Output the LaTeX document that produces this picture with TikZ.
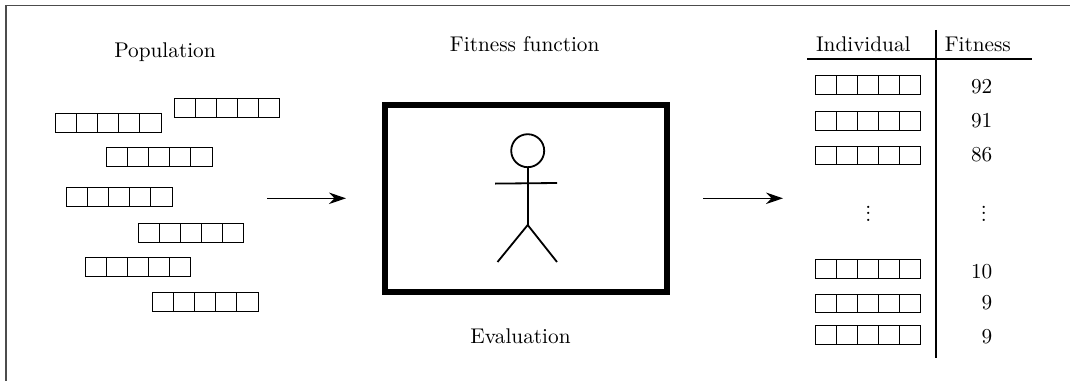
\documentclass[tikz,border=0pt]{standalone}
\usetikzlibrary{arrows.meta}
\tikzset{
  cell/.style={draw=black,line width=0.4pt,minimum width=9.8935pt,minimum height=8.9pt,inner sep=0pt,outer sep=0pt},
  label/.style={inner sep=0pt,anchor=base},
  flow/.style={line width=0.55pt,-{Stealth[length=8pt,width=5.4pt,inset=2.6pt]}},
  rule/.style={line width=0.8pt},
  figure/.style={line width=0.85pt}
}
\newcommand{\genome}[3]{%
  \foreach \k in {1,...,5}{%
    \node[cell] (#1-\k) at ({#2+(\k-0.5)*21.05},{#3}) {};
  }%
}
\newcommand{\smalldots}{\vbox{\baselineskip=3.1pt\lineskiplimit=-10pt\hbox{.}\hbox{.}\hbox{.}}}
\begin{document}
\begin{tikzpicture}[x=0.47pt,y=-0.47pt]
\useasboundingbox (0,0) rectangle (1070,381);
\draw[line width=0.5pt,draw=black!70] (6,381) -- (6,5.5) -- (1070,5.5);
\node[label] (pop) at (165,58) {Population};
\genome{a}{174.3}{108}
\genome{b}{55.7}{123}
\genome{c}{106.7}{157}
\genome{d}{66.7}{197}
\genome{e}{138.3}{233}
\genome{f}{85}{266.8}
\genome{g}{152.7}{301.7}
\coordinate (a1s) at (267,198.3);
\coordinate (a1e) at (346,198.3);
\draw[flow] (a1s) -- (a1e);
\node[label] (ff) at (524.7,52) {Fitness function};
\node[label] (ev) at (520.5,343.5) {Evaluation};
\node[draw=black,line width=2.8pt,minimum width=132.7pt,minimum height=88pt,inner sep=0pt,outer sep=0pt] (screen) at (526,198.4) {};
\node[draw=black,line width=0.85pt,circle,minimum size=15.5pt,inner sep=0pt,outer sep=0pt] (head) at (527.7,150.7) {};
\coordinate (hip) at (527.7,225);
\coordinate (armL) at (495,183.6);
\coordinate (armR) at (557,183);
\coordinate (legL) at (497.5,262);
\coordinate (legR) at (557,262);
\draw[figure] (head.south) -- (hip);
\draw[figure] (armL) -- (armR);
\draw[figure] (legL) -- (hip) -- (legR);
\coordinate (a2s) at (703,198.3);
\coordinate (a2e) at (783,198.3);
\draw[flow] (a2s) -- (a2e);
\coordinate (vt) at (936,30);
\coordinate (vb) at (936,358);
\coordinate (hl) at (807,59);
\coordinate (hr) at (1032,59);
\draw[rule] (vt) -- (vb);
\draw[rule] (hl) -- (hr);
\node[label] (ind) at (863.3,51.7) {Individual};
\node[label] (fit) at (977.8,51.7) {Fitness};
\genome{r}{815.3}{85}
\genome{s}{815.3}{120.7}
\genome{t}{815.3}{155.4}
\genome{u}{815.3}{268.7}
\genome{v}{815.3}{303.4}
\genome{w}{815.3}{334.7}
\node[label,anchor=base east] (n1) at (992.7,93.3) {92};
\node[label,anchor=base east] (n2) at (992.7,127.3) {91};
\node[label,anchor=base east] (n3) at (992.7,161.3) {86};
\node[label,anchor=base east] (n4) at (992.7,278.7) {10};
\node[label,anchor=base east] (n5) at (992.7,309.3) {9};
\node[label,anchor=base east] (n6) at (992.7,343.3) {9};
\node[inner sep=0pt] (d1) at (868.3,213.7) {\smalldots};
\node[inner sep=0pt] (d2) at (983.7,213.7) {\smalldots};
\end{tikzpicture}
\end{document}
